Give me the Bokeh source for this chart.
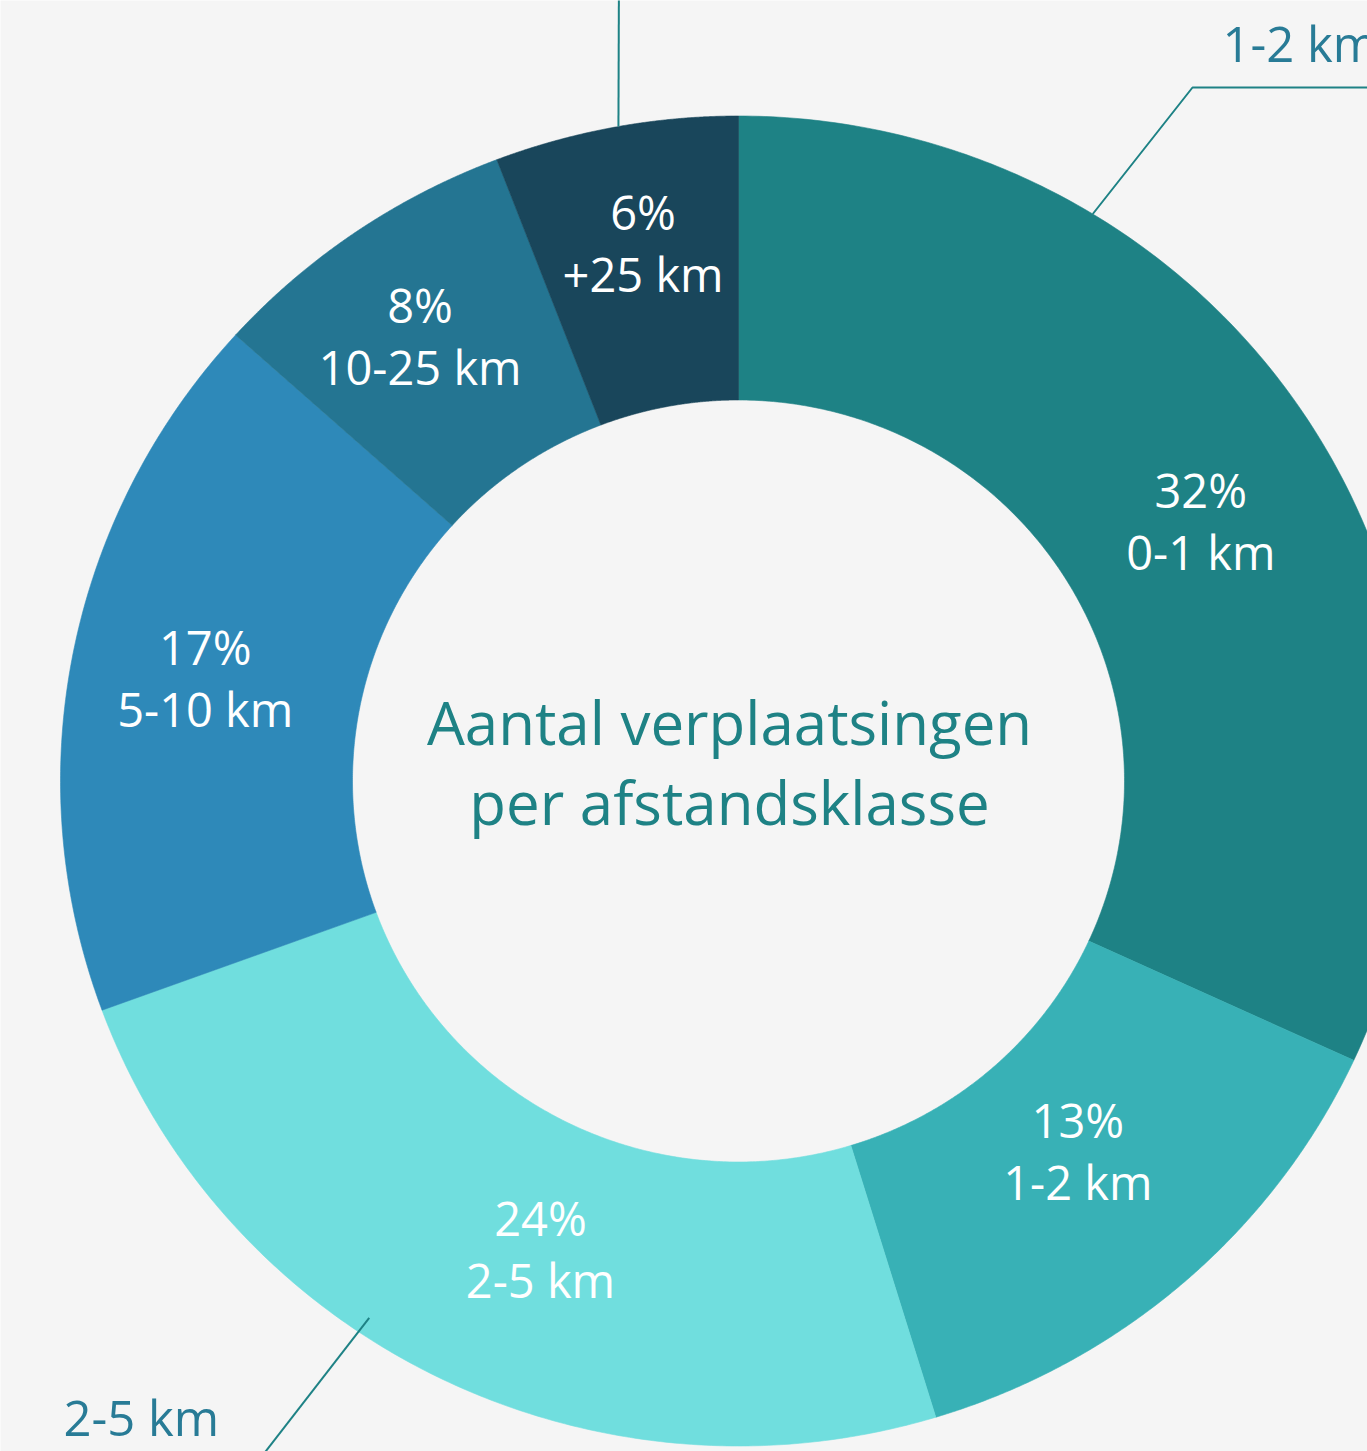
import numpy as np
from bokeh.plotting import figure
from bokeh.models import ColumnDataSource, Range1d
from bokeh.core.properties import value
from bokeh.embed import file_html
from bokeh.resources import INLINE

# ---------------- data ----------------
categories = ["0-1 km", "1-2 km", "2-5 km", "5-10 km", "10-25 km", "+25 km"]
shares = [31.9, 13.4, 24.1, 17.3, 7.5, 5.8]
pct_labels = ["32%", "13%", "24%", "17%", "8%", "6%"]
title_lines = ["Aantal verplaatsingen", "per afstandsklasse"]
callout_texts = ["1-2 km", "2-5 km"]

# ---------------- styles / layout ----------------
colors = ["#1e8285", "#38b1b6", "#70dede", "#2e89b9", "#247592", "#19465b"]
BG = "#f5f5f5"
TEAL = "#1e8285"
CALLOUT_TEXT = "#287b96"
FONT = "Open Sans"

W, H = 1367, 1451
CX, CY = 738.0, 780.5      # donut centre (px from top-left)
RX_OUT, RY_OUT = 678.0, 665.0
RX_IN, RY_IN = 386.0, 381.0
label_nudge = [(14, 24), (-10, -22), (39, 2), (-11, -1), (-18, -11), (1, -21)]
BASE_FIX = 0.41            # baseline correction, in em


def ell(theta_deg, rx, ry, f=1.0):
    t = np.radians(theta_deg)
    return CX + f * rx * np.sin(t), -(CY - f * ry * np.cos(t))


p = figure(width=W, height=H, output_backend="svg", toolbar_location=None,
           x_range=Range1d(0, W), y_range=Range1d(-H, 0),
           min_border=0, outline_line_color=None,
           background_fill_color=BG, border_fill_color=BG)
p.axis.visible = False
p.grid.visible = False

# ---------------- slices ----------------
total = float(sum(shares))
cum = np.concatenate([[0.0], np.cumsum(shares)]) / total * 360.0
xs, ys = [], []
for i in range(len(shares)):
    a0, a1 = cum[i], cum[i + 1]
    th = np.linspace(a0, a1, 200)
    ox, oy = ell(th, RX_OUT, RY_OUT)
    ix, iy = ell(th[::-1], RX_IN, RY_IN)
    xs.append(np.concatenate([ox, ix]).tolist())
    ys.append(np.concatenate([oy, iy]).tolist())
p.patches(xs=xs, ys=ys, fill_color=colors, line_color=colors, line_width=0.6)

# ---------------- slice labels ----------------
LS = 47
mids = (cum[:-1] + cum[1:]) / 2.0
lx, ly = [], []
for i, m in enumerate(mids):
    x, y = ell(m, (RX_OUT + RX_IN) / 2, (RY_OUT + RY_IN) / 2)
    lx.append(x + label_nudge[i][0])
    ly.append(y - label_nudge[i][1])
ly = np.array(ly) + BASE_FIX * LS
src_pct = ColumnDataSource(dict(x=lx, y=(ly + 14).tolist(), t=pct_labels))
src_cat = ColumnDataSource(dict(x=lx, y=(ly - 48).tolist(), t=categories))
for src in (src_pct, src_cat):
    p.text(x="x", y="y", text="t", source=src, text_color="white",
           text_font=value(FONT), text_font_size=value(f"{LS}px"),
           text_align="center", text_baseline="alphabetic")

# ---------------- centre title ----------------
TS = 60
p.text(x=[729, 729], y=[-746 + BASE_FIX * TS, -826 + BASE_FIX * TS], text=title_lines,
       text_color=TEAL, text_font=value(FONT), text_font_size=value(f"{TS}px"),
       text_align="center", text_baseline="alphabetic")

# ---------------- callouts ----------------
ax, ay = ell(31.5, RX_OUT, RY_OUT)
p.line([ax, 1192, W + 20], [ay, -87, -87], line_color=TEAL, line_width=2)
ax, ay = ell(349.8, RX_OUT, RY_OUT)
p.line([ax, ax + 0.5], [ay, 20], line_color=TEAL, line_width=2)
ax, ay = ell(214.0, RX_OUT, RY_OUT, 0.974)
p.line([ax, 255], [ay, -(H + 13)], line_color=TEAL, line_width=2)

CS = 49
p.text(x=[1222, 63], y=[-63 + BASE_FIX * CS, -1437 + BASE_FIX * CS], text=callout_texts,
       text_color=CALLOUT_TEXT, text_font=value(FONT), text_font_size=value(f"{CS}px"),
       text_align="left", text_baseline="alphabetic")

open("out.html", "w").write(file_html(p, INLINE))
